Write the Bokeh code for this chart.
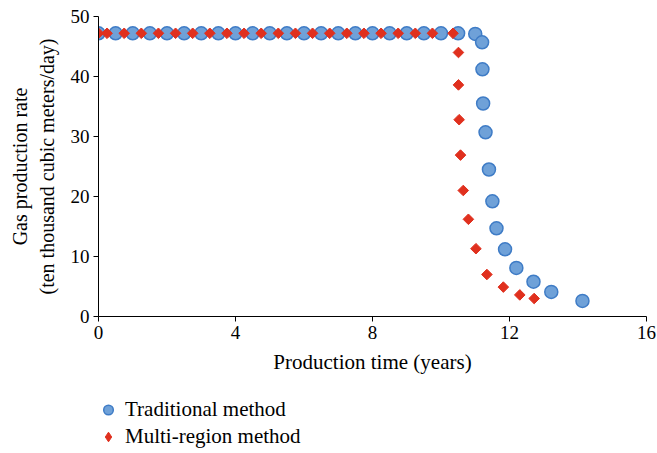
from bokeh.plotting import figure
from bokeh.layouts import column
from bokeh.models import Range1d, Legend, LegendItem, FixedTicker
from bokeh.embed import file_html
from bokeh.resources import INLINE
import numpy as np

# Traditional method
trad_t = [0, 0.5, 1.0, 1.5, 2.0, 2.5, 3.0, 3.5, 4.0, 4.5, 5.0, 5.5, 6.0, 6.5, 7.0, 7.5,
          8.0, 8.5, 9.0, 9.5, 10.0, 10.5, 11.0, 11.2, 11.21, 11.23, 11.3, 11.4, 11.5,
          11.62, 11.87, 12.2, 12.7, 13.22, 14.13]
trad_q = [47.2] * 22 + [47.1, 45.7, 41.2, 35.5, 30.7, 24.5, 19.2, 14.7, 11.2, 8.1,
                        5.8, 4.1, 2.6]

# Multi-region method
multi_t = [0, 0.25, 0.75, 1.25, 1.75, 2.25, 2.75, 3.25, 3.75, 4.25, 4.75, 5.25, 5.75,
           6.25, 6.75, 7.25, 7.75, 8.25, 8.75, 9.25, 9.75, 10.35, 10.51, 10.51, 10.53,
           10.57, 10.65, 10.8, 11.02, 11.34, 11.82, 12.3, 12.72]
multi_q = [47.2] * 22 + [44.0, 38.6, 32.8, 26.9, 21.0, 16.2, 11.3, 7.0, 4.9, 3.6, 3.0]

x_ticks = [0, 4, 8, 12, 16]
y_ticks = [0, 10, 20, 30, 40, 50]
series_names = ["Traditional method", "Multi-region method"]

FONT = "Liberation Serif"
BLUE_FILL, BLUE_LINE = "#6fa1d8", "#3f7cc6"
RED = "#e0301e"

p = figure(frame_width=548, frame_height=300, x_range=Range1d(0, 16), y_range=Range1d(0, 50),
           output_backend="svg", toolbar_location=None,
           min_border_left=98, min_border_right=11, min_border_top=16, min_border_bottom=74)
p.xgrid.grid_line_color = None
p.ygrid.grid_line_color = None
p.outline_line_color = None

for ax in (p.xaxis[0], p.yaxis[0]):
    ax.axis_line_color = "black"
    ax.major_tick_line_color = "black"
    ax.minor_tick_line_color = None
    ax.major_tick_in = 0
    ax.major_tick_out = 5
    ax.major_label_text_font = FONT
    ax.major_label_text_font_size = "19px"
    ax.major_label_text_color = "black"
    ax.axis_label_text_font = FONT
    ax.axis_label_text_font_style = "normal"
    ax.axis_label_text_color = "black"

p.xaxis.axis_label_text_font_size = "21px"
p.yaxis.axis_label_text_font_size = "20px"
p.xaxis.ticker = FixedTicker(ticks=x_ticks)
p.yaxis.ticker = FixedTicker(ticks=y_ticks)
p.xaxis.axis_label = "Production time (years)"
p.yaxis.axis_label = "Gas production rate\n(ten thousand cubic meters/day)"
p.xaxis.major_label_standoff = 4
p.yaxis.major_label_standoff = 4
p.xaxis.axis_label_standoff = 8
p.yaxis.axis_label_standoff = 10

p.scatter(trad_t, trad_q, marker="circle", size=13, fill_color=BLUE_FILL,
          line_color=BLUE_LINE, line_width=1.5)
p.scatter(multi_t, multi_q, marker="square", angle=np.pi / 4, size=7.5,
          fill_color=RED, line_color=RED, line_width=1)

# Legend panel below the chart (frame aligned with the chart's frame by the column layout)
q = figure(width=657, height=63, x_range=Range1d(0, 1), y_range=Range1d(0, 1),
           output_backend="svg", toolbar_location=None,
           x_axis_location=None, y_axis_location=None,
           min_border_left=98, min_border_right=11, min_border_top=0, min_border_bottom=0)
q.xgrid.grid_line_color = None
q.ygrid.grid_line_color = None
q.outline_line_color = None
g1 = q.scatter([-10], [-10], marker="circle", size=13, fill_color=BLUE_FILL,
               line_color=BLUE_LINE, line_width=1.5)
g2 = q.scatter([-10], [-10], marker="diamond", size=10,
               fill_color=RED, line_color=RED, line_width=1)
legend = Legend(items=[LegendItem(label=series_names[0], renderers=[g1]),
                       LegendItem(label=series_names[1], renderers=[g2])],
                location=(-2, 3), orientation="vertical",
                border_line_color=None, background_fill_alpha=0,
                label_text_font=FONT, label_text_font_size="21px",
                label_text_color="black", label_height=27,
                glyph_width=24, glyph_height=27, label_standoff=5,
                spacing=0, padding=0, margin=0)
q.add_layout(legend, "center")

layout = column(p, q)
open("out.html", "w").write(file_html(layout, INLINE))
